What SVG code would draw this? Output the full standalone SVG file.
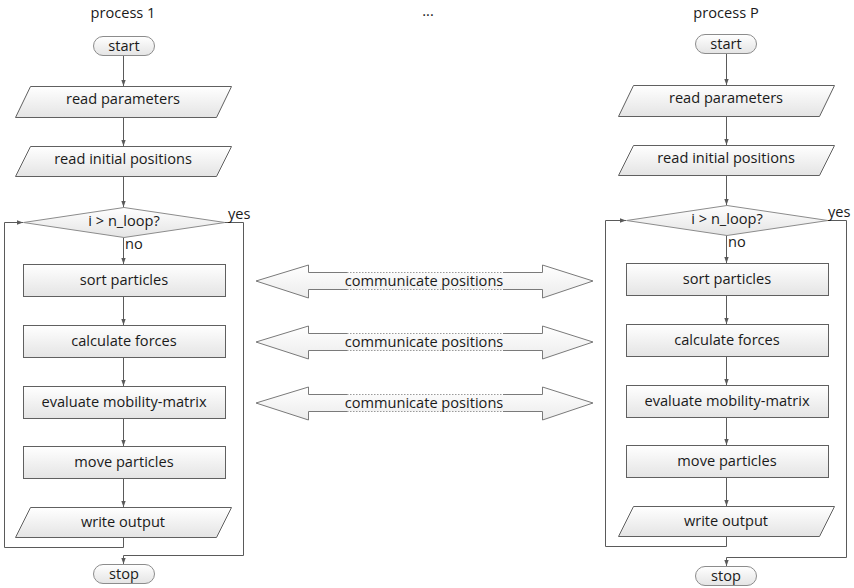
<svg xmlns="http://www.w3.org/2000/svg" width="854" height="588" viewBox="0 0 854 588">
  <defs>
    <linearGradient id="nodeFill" x1="0" y1="0" x2="0" y2="1">
      <stop offset="0" stop-color="#ffffff"/>
      <stop offset="1" stop-color="#e4e4e4"/>
    </linearGradient>
    <linearGradient id="arrowFill" x1="0" y1="0" x2="0" y2="1">
      <stop offset="0" stop-color="#ffffff"/>
      <stop offset="1" stop-color="#ececec"/>
    </linearGradient>
    <marker id="head" viewBox="0 0 6 6" refX="6" refY="3" markerWidth="6" markerHeight="6" markerUnits="userSpaceOnUse" orient="auto">
      <path d="M0,0.8 L6,3 L0,5.2 Z" fill="#5a5a5a"/>
    </marker>
  </defs>
  <style>
    .node { fill: url(#nodeFill); stroke: #606060; stroke-width: 1; }
    .term { fill: url(#nodeFill); stroke: #8c8c8c; stroke-width: 1; }
    .lbl { font-family: "Open Sans", "Liberation Sans", sans-serif; font-size: 14.6px; fill: #1a1a1a; text-anchor: middle; }
    .small { font-family: "Open Sans", "Liberation Sans", sans-serif; font-size: 14.6px; fill: #1a1a1a; }
    .conn { fill: none; stroke: #5a5a5a; stroke-width: 1; }
    .arrowbody { fill: url(#arrowFill); stroke: none; }
    .arrowedge { fill: none; stroke: #7a7a7a; stroke-width: 1; }
    .arrowdots { fill: none; stroke: #9a9a9a; stroke-width: 1; stroke-dasharray: 1.5 1.5; }
  </style>

  <rect width="854" height="588" fill="#ffffff"/>

  <!-- column titles -->
  <text class="lbl" x="123" y="18">process 1</text>
  <text class="lbl" x="428" y="16">...</text>
  <text class="lbl" x="726" y="18">process P</text>

  <!-- ===== process 1 ===== -->
  <g id="p1-connectors">
    <path class="conn" d="M123.5,55 V86" marker-end="url(#head)"/>
    <path class="conn" d="M123.5,117 V146" marker-end="url(#head)"/>
    <path class="conn" d="M123.5,176 V207" marker-end="url(#head)"/>
    <path class="conn" d="M123.5,237 V264" marker-end="url(#head)"/>
    <path class="conn" d="M123.5,297 V325" marker-end="url(#head)"/>
    <path class="conn" d="M123.5,357 V386" marker-end="url(#head)"/>
    <path class="conn" d="M123.5,418 V446" marker-end="url(#head)"/>
    <path class="conn" d="M123.5,478 V507" marker-end="url(#head)"/>
    <path class="conn" d="M123.5,537 V547.5 H4.5 V222.5 H23" marker-end="url(#head)"/>
    <path class="conn" d="M225,222.5 H243.5 V555.5 H123.5 V564" marker-end="url(#head)"/>
  </g>
  <g id="p1-start">
    <rect class="term" x="93.5" y="36.5" width="61" height="19" rx="9.5"/>
    <text class="lbl" x="124" y="51">start</text>
  </g>
  <g id="p1-read-parameters">
    <polygon class="node" points="30.5,86.5 231.5,86.5 216.5,117.5 15.5,117.5"/>
    <text class="lbl" x="123" y="104">read parameters</text>
  </g>
  <g id="p1-read-initial">
    <polygon class="node" points="30.5,146.5 231.5,146.5 216.5,176.5 15.5,176.5"/>
    <text class="lbl" x="123" y="164">read initial positions</text>
  </g>
  <g id="p1-loop-check">
    <polygon class="term" points="23.5,222.5 124,207.5 225,222.5 124,237.5"/>
    <text class="lbl" x="124" y="226">i &gt; n_loop?</text>
    <text class="small" x="228" y="219">yes</text>
    <text class="small" x="125" y="249">no</text>
  </g>
  <g id="p1-sort">
    <rect class="node" x="23.5" y="264.5" width="202" height="32"/>
    <text class="lbl" x="124" y="285">sort particles</text>
  </g>
  <g id="p1-forces">
    <rect class="node" x="23.5" y="325.5" width="202" height="32"/>
    <text class="lbl" x="124" y="346">calculate forces</text>
  </g>
  <g id="p1-mobility">
    <rect class="node" x="23.5" y="386.5" width="202" height="32"/>
    <text class="lbl" x="124" y="407">evaluate mobility-matrix</text>
  </g>
  <g id="p1-move">
    <rect class="node" x="23.5" y="446.5" width="202" height="32"/>
    <text class="lbl" x="124" y="467">move particles</text>
  </g>
  <g id="p1-write">
    <polygon class="node" points="30.5,507.5 231.5,507.5 216.5,537.5 15.5,537.5"/>
    <text class="lbl" x="123" y="527">write output</text>
  </g>
  <g id="p1-stop">
    <rect class="term" x="93.5" y="564.5" width="61" height="19" rx="9.5"/>
    <text class="lbl" x="124" y="579">stop</text>
  </g>

  <!-- ===== process P ===== -->
  <g id="pP-connectors">
    <path class="conn" d="M726.5,53 V85" marker-end="url(#head)"/>
    <path class="conn" d="M726.5,116 V145" marker-end="url(#head)"/>
    <path class="conn" d="M726.5,175 V205" marker-end="url(#head)"/>
    <path class="conn" d="M726.5,235 V263" marker-end="url(#head)"/>
    <path class="conn" d="M726.5,296 V324" marker-end="url(#head)"/>
    <path class="conn" d="M726.5,356 V385" marker-end="url(#head)"/>
    <path class="conn" d="M726.5,417 V445" marker-end="url(#head)"/>
    <path class="conn" d="M726.5,477 V506" marker-end="url(#head)"/>
    <path class="conn" d="M726.5,536 V546.5 H605.5 V220.5 H626" marker-end="url(#head)"/>
    <path class="conn" d="M828,220.5 H846.5 V557.5 H726.5 V566" marker-end="url(#head)"/>
  </g>
  <g id="pP-start">
    <rect class="term" x="695.5" y="34.5" width="61" height="19" rx="9.5"/>
    <text class="lbl" x="726" y="49">start</text>
  </g>
  <g id="pP-read-parameters">
    <polygon class="node" points="633.5,85.5 834.5,85.5 819.5,116.5 618.5,116.5"/>
    <text class="lbl" x="726" y="103">read parameters</text>
  </g>
  <g id="pP-read-initial">
    <polygon class="node" points="633.5,145.5 834.5,145.5 819.5,175.5 618.5,175.5"/>
    <text class="lbl" x="726" y="163">read initial positions</text>
  </g>
  <g id="pP-loop-check">
    <polygon class="term" points="626.5,220.5 727,205.5 828,220.5 727,235.5"/>
    <text class="lbl" x="727" y="224">i &gt; n_loop?</text>
    <text class="small" x="828" y="217">yes</text>
    <text class="small" x="728" y="247">no</text>
  </g>
  <g id="pP-sort">
    <rect class="node" x="626.5" y="263.5" width="202" height="32"/>
    <text class="lbl" x="727" y="284">sort particles</text>
  </g>
  <g id="pP-forces">
    <rect class="node" x="626.5" y="324.5" width="202" height="32"/>
    <text class="lbl" x="727" y="345">calculate forces</text>
  </g>
  <g id="pP-mobility">
    <rect class="node" x="626.5" y="385.5" width="202" height="32"/>
    <text class="lbl" x="727" y="406">evaluate mobility-matrix</text>
  </g>
  <g id="pP-move">
    <rect class="node" x="626.5" y="445.5" width="202" height="32"/>
    <text class="lbl" x="727" y="466">move particles</text>
  </g>
  <g id="pP-write">
    <polygon class="node" points="633.5,506.5 834.5,506.5 819.5,536.5 618.5,536.5"/>
    <text class="lbl" x="726" y="526">write output</text>
  </g>
  <g id="pP-stop">
    <rect class="term" x="695.5" y="566.5" width="61" height="19" rx="9.5"/>
    <text class="lbl" x="726" y="581">stop</text>
  </g>

  <!-- ===== communication arrows between the processes ===== -->
  <g id="comm-1" transform="translate(0,281)">
    <polygon class="arrowbody" points="256,0 308,-16 308,-8.5 542,-8.5 542,-16 593,0 542,17 542,8.5 308,8.5 308,17"/>
    <path class="arrowedge" d="M347,-8.5 H308.5 V-16 L256,0 L308.5,17 V8.5 H347 M503,-8.5 H542.5 V-16 L593,0 L542.5,17 V8.5 H503"/>
    <path class="arrowdots" d="M347,-8.5 H503 M347,8.5 H503"/>
    <text class="lbl" x="424" y="5">communicate positions</text>
  </g>
  <g id="comm-2" transform="translate(0,342)">
    <polygon class="arrowbody" points="256,0 308,-16 308,-8.5 542,-8.5 542,-16 593,0 542,17 542,8.5 308,8.5 308,17"/>
    <path class="arrowedge" d="M347,-8.5 H308.5 V-16 L256,0 L308.5,17 V8.5 H347 M503,-8.5 H542.5 V-16 L593,0 L542.5,17 V8.5 H503"/>
    <path class="arrowdots" d="M347,-8.5 H503 M347,8.5 H503"/>
    <text class="lbl" x="424" y="5">communicate positions</text>
  </g>
  <g id="comm-3" transform="translate(0,403)">
    <polygon class="arrowbody" points="256,0 308,-16 308,-8.5 542,-8.5 542,-16 593,0 542,17 542,8.5 308,8.5 308,17"/>
    <path class="arrowedge" d="M347,-8.5 H308.5 V-16 L256,0 L308.5,17 V8.5 H347 M503,-8.5 H542.5 V-16 L593,0 L542.5,17 V8.5 H503"/>
    <path class="arrowdots" d="M347,-8.5 H503 M347,8.5 H503"/>
    <text class="lbl" x="424" y="5">communicate positions</text>
  </g>
</svg>
